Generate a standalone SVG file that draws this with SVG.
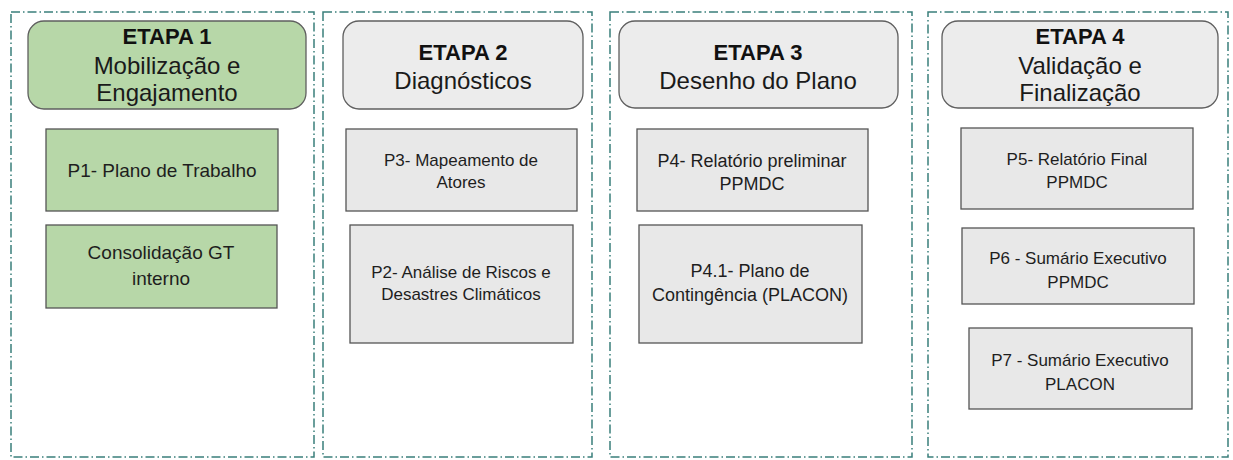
<svg xmlns="http://www.w3.org/2000/svg" width="1233" height="460" viewBox="0 0 1233 460">
<style>
.lane{fill:#ffffff;stroke:#3a7f7b;stroke-width:1.5;stroke-dasharray:9 3 1.5 3}
.hg{fill:#b7d7a8;stroke:#5f5f5f;stroke-width:1.3}
.hw{fill:#ececec;stroke:#5f5f5f;stroke-width:1.3}
.bg{fill:#b7d7a8;stroke:#555;stroke-width:1.3}
.bw{fill:#e8e8e8;stroke:#555;stroke-width:1.3}
text{font-family:"Liberation Sans",Arial,sans-serif;text-anchor:middle;fill:#1e1e1e}
.t1{font-size:22px;font-weight:bold;fill:#111}
.t2{font-size:24px;fill:#1a1a1a}
.b19{font-size:19px}
.b18{font-size:18px}
.b17{font-size:17px}
</style>
<rect width="1233" height="460" fill="#ffffff"/>
<g id="lanes">
<rect id="lane1" class="lane" x="11" y="12" width="303" height="445"/>
<rect id="lane2" class="lane" x="323" y="12" width="269" height="445"/>
<rect id="lane3" class="lane" x="610" y="12" width="302" height="445"/>
<rect id="lane4" class="lane" x="928" y="12" width="300" height="445"/>
</g>
<g id="etapa1">
<rect class="hg" x="28" y="21" width="278" height="88" rx="16"/>
<text class="t1" x="167" y="44">ETAPA 1</text>
<text class="t2" x="167" y="74">Mobilização e</text>
<text class="t2" x="167" y="101">Engajamento</text>
</g>
<g id="etapa2">
<rect class="hw" x="343" y="21" width="240" height="88" rx="16"/>
<text class="t1" x="463" y="60">ETAPA 2</text>
<text class="t2" x="463" y="89">Diagnósticos</text>
</g>
<g id="etapa3">
<rect class="hw" x="619" y="21" width="279" height="87" rx="16"/>
<text class="t1" x="758" y="60">ETAPA 3</text>
<text class="t2" x="758" y="89">Desenho do Plano</text>
</g>
<g id="etapa4">
<rect class="hw" x="942" y="21" width="276" height="87" rx="16"/>
<text class="t1" x="1080" y="44">ETAPA 4</text>
<text class="t2" x="1080" y="74">Validação e</text>
<text class="t2" x="1080" y="101">Finalização</text>
</g>
<g id="p1">
<rect class="bg" x="46" y="129" width="232" height="82"/>
<text class="b19" x="162" y="177">P1- Plano de Trabalho</text>
</g>
<g id="consolidacao">
<rect class="bg" x="46" y="225" width="231" height="83"/>
<text class="b19" x="161" y="259">Consolidação GT</text>
<text class="b19" x="161" y="285">interno</text>
</g>
<g id="p3">
<rect class="bw" x="346" y="129" width="231" height="82"/>
<text class="b17" x="461" y="166">P3- Mapeamento de</text>
<text class="b17" x="461" y="188">Atores</text>
</g>
<g id="p2">
<rect class="bw" x="350" y="225" width="223" height="118"/>
<text class="b17" x="461" y="278">P2- Análise de Riscos e</text>
<text class="b17" x="461" y="300">Desastres Climáticos</text>
</g>
<g id="p4">
<rect class="bw" x="637" y="129" width="231" height="82"/>
<text class="b18" x="752" y="167">P4- Relatório preliminar</text>
<text class="b18" x="752" y="190">PPMDC</text>
</g>
<g id="p41">
<rect class="bw" x="639" y="225" width="223" height="118"/>
<text class="b18" x="750" y="277">P4.1- Plano de</text>
<text class="b18" x="750" y="301">Contingência (PLACON)</text>
</g>
<g id="p5">
<rect class="bw" x="961" y="128" width="232" height="81"/>
<text class="b17" x="1077" y="165">P5- Relatório Final</text>
<text class="b17" x="1077" y="188">PPMDC</text>
</g>
<g id="p6">
<rect class="bw" x="962" y="228" width="232" height="76"/>
<text class="b17" x="1078" y="264">P6 - Sumário Executivo</text>
<text class="b17" x="1078" y="288">PPMDC</text>
</g>
<g id="p7">
<rect class="bw" x="969" y="328" width="223" height="81"/>
<text class="b17" x="1080" y="366">P7 - Sumário Executivo</text>
<text class="b17" x="1080" y="390">PLACON</text>
</g>
<g id="connectors"></g>
</svg>
